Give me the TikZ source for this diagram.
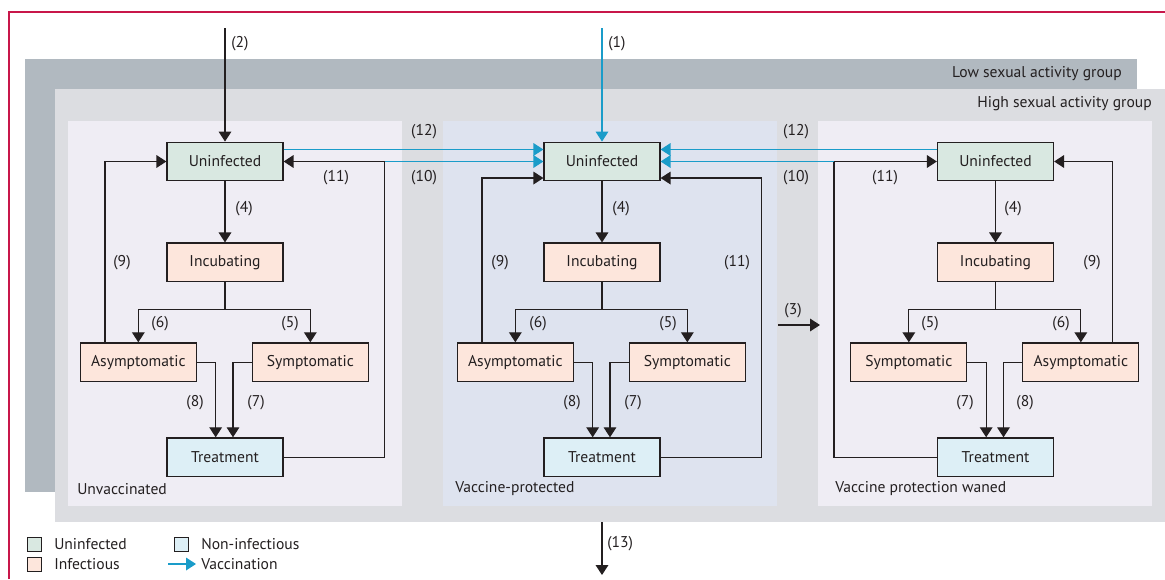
\documentclass[tikz,border=0pt]{standalone}
\usepackage{fontspec}
\setmainfont{PT Sans}
\usetikzlibrary{arrows.meta,positioning}

\definecolor{lowgrp}{HTML}{B1B9C0}
\definecolor{highgrp}{HTML}{DCDDE1}
\definecolor{panel}{HTML}{EFEDF4}
\definecolor{vpanel}{HTML}{DEE3EF}
\definecolor{uninf}{HTML}{D9E8E1}
\definecolor{infec}{HTML}{FDE6DC}
\definecolor{noninf}{HTML}{DDEFF6}
\definecolor{vaccblue}{HTML}{1A9CC9}
\definecolor{framered}{HTML}{C8174A}
\definecolor{ink}{HTML}{231F20}

\newcommand{\figfont}{\fontsize{11.7}{14}\selectfont}

\tikzset{
  comp/.style={draw=ink, line width=0.9pt, minimum width=87pt, minimum height=29pt, inner sep=0pt, font=\figfont, text=ink},
  arr/.style={-{Triangle[length=7.5pt,width=9.5pt]}, line width=0.95pt, ink},
  vacc/.style={-{Triangle[length=7.5pt,width=9.5pt]}, line width=0.95pt, vaccblue},
  num/.style={font=\figfont, text=ink, inner sep=0pt},
  legbox/.style={draw=ink, line width=0.7pt, minimum size=10.5pt, inner sep=0pt},
}

\begin{document}
\begin{tikzpicture}[x=0.75pt, y=-0.75pt]

\useasboundingbox (0,0) rectangle (1165,579);

% groups and panels
\fill[lowgrp] (25,59) rectangle (1137,492);
\fill[highgrp] (55,89) rectangle (1165,522);
\fill[panel] (68,121) rectangle (402,506);
\fill[vpanel] (443,121) rectangle (777,506);
\fill[panel] (818,121) rectangle (1152,506);
\draw[framered, line width=0.8pt] (9,579) -- (9,12) -- (1165,12);

\node[num, anchor=east] (lowlbl) at (1122,74) {Low sexual activity group};
\node[num, anchor=east] (highlbl) at (1152,104) {High sexual activity group};
\node[num, anchor=west] (unvlbl) at (77,489) {Unvaccinated};
\node[num, anchor=west] (vprlbl) at (455,489) {Vaccine-protected};
\node[num, anchor=west] (wanlbl) at (835,489) {Vaccine protection waned};

% unvaccinated
\node[comp, fill=uninf] (U1) at (225,161.5) {Uninfected};
\node[comp, fill=infec] (I1) [below=45.75pt of U1] {Incubating};
\node[comp, fill=infec] (A1) [below=45pt of I1, xshift=-65pt] {Asymptomatic};
\node[comp, fill=infec] (S1) [below=45pt of I1, xshift=64pt] {Symptomatic};
\node[comp, fill=noninf] (T1) [below=116.25pt of I1] {Treatment};

% vaccine-protected
\node[comp, fill=uninf] (U2) at (602,161.5) {Uninfected};
\node[comp, fill=infec] (I2) [below=45.75pt of U2] {Incubating};
\node[comp, fill=infec] (A2) [below=45pt of I2, xshift=-65pt] {Asymptomatic};
\node[comp, fill=infec] (S2) [below=45pt of I2, xshift=64pt] {Symptomatic};
\node[comp, fill=noninf] (T2) [below=116.25pt of I2] {Treatment};

% vaccine protection waned
\node[comp, fill=uninf] (U3) at (995.5,161.5) {Uninfected};
\node[comp, fill=infec] (I3) [below=45.75pt of U3] {Incubating};
\node[comp, fill=infec] (S3) [below=45pt of I3, xshift=-65pt] {Symptomatic};
\node[comp, fill=infec] (A3) [below=45pt of I3, xshift=64pt] {Asymptomatic};
\node[comp, fill=noninf] (T3) [below=116.25pt of I3] {Treatment};

\coordinate (in2) at (225,28);
\coordinate (in1) at (602,28);
\coordinate (out13) at (602,575);
\coordinate (src13) at (602,522);
\coordinate (src3) at (778,325);
\coordinate (dst3) at (820,325);

% unvaccinated flows
\draw[arr] (in2) -- (U1);
\draw[arr] (U1) -- (I1);
\draw[arr] (I1.south) -- ++(0,27) coordinate (b1) -| (A1.north);
\draw[arr] (b1) -| (S1.north);
\draw[arr] (A1.east) -| ([xshift=-7pt]T1.north);
\draw[arr] (S1.west) -| ([xshift=6pt]T1.north);
\draw[arr] ([xshift=-25pt]A1.north) |- (U1.west);
\draw[arr] (T1.east) -- ++(101,0) coordinate (k1) |- (U1.east);

% vaccine-protected flows
\draw[vacc] (in1) -- (U2);
\draw[arr] (U2) -- (I2);
\draw[arr] (I2.south) -- ++(0,27) coordinate (b2) -| (A2.north);
\draw[arr] (b2) -| (S2.north);
\draw[arr] (A2.east) -| ([xshift=-7pt]T2.north);
\draw[arr] (S2.west) -| ([xshift=6pt]T2.north);
\draw[arr] ([xshift=-25pt]A2.north) |- ([yshift=-12.4pt]U2.west);
\draw[arr] (T2.east) -- ++(101,0) |- ([yshift=-12.4pt]U2.east);

% waned flows
\draw[arr] (U3) -- (I3);
\draw[arr] (I3.south) -- ++(0,27) coordinate (b3) -| (S3.north);
\draw[arr] (b3) -| (A3.north);
\draw[arr] (S3.east) -| ([xshift=-7pt]T3.north);
\draw[arr] (A3.west) -| ([xshift=6pt]T3.north);
\draw[arr] ([xshift=24pt]A3.north) |- (U3.east);
\draw[arr] (T3.west) -- ++(-103,0) coordinate (k3) |- (U3.west);

% vaccination
\draw[vacc] ([yshift=9pt]U1.east) -- ([yshift=9pt]U2.west);
\draw[vacc] (k1 |- U1.east) -- (U2.west);
\draw[vacc] ([yshift=9pt]U3.west) -- ([yshift=9pt]U2.east);
\draw[vacc] (k3 |- U3.west) -- (U2.east);

\draw[arr] (src3) -- (dst3);
\draw[arr] (src13) -- (out13);

% rate labels
\node[num, anchor=west] (n2) at (231,44) {(2)};
\node[num, anchor=west] (n1) at (608,44) {(1)};
\node[num, anchor=west] (n13) at (607,544) {(13)};
\node[num] (n3) at (793,311) {(3)};
\node[num] (n12a) at (424,132) {(12)};
\node[num] (n10a) at (424,178) {(10)};
\node[num] (n12b) at (796,132) {(12)};
\node[num] (n10b) at (796,178) {(10)};

\node[num] (n11a) at (336,178) {(11)};
\node[num] (n4a) at (244,209) {(4)};
\node[num] (n9a) at (122,263) {(9)};
\node[num] (n6a) at (160,324) {(6)};
\node[num] (n5a) at (290,324) {(5)};
\node[num] (n8a) at (195,403) {(8)};
\node[num] (n7a) at (256,403) {(7)};

\node[num] (n4b) at (621,209) {(4)};
\node[num] (n9b) at (500,263) {(9)};
\node[num] (n11b) at (737,263) {(11)};
\node[num] (n6b) at (538,324) {(6)};
\node[num] (n5b) at (668,324) {(5)};
\node[num] (n8b) at (572,403) {(8)};
\node[num] (n7b) at (633,403) {(7)};

\node[num] (n11c) at (885,178) {(11)};
\node[num] (n4c) at (1013,209) {(4)};
\node[num] (n9c) at (1092,263) {(9)};
\node[num] (n5c) at (930,324) {(5)};
\node[num] (n6c) at (1061,324) {(6)};
\node[num] (n7c) at (965,403) {(7)};
\node[num] (n8c) at (1025,403) {(8)};

% legend
\node[legbox, fill=uninf] (lgU) at (34.5,544) {};
\node[legbox, fill=infec] (lgI) at (34.5,564) {};
\node[legbox, fill=noninf] (lgN) at (181.5,544) {};
\coordinate (lgVa) at (168,564);
\coordinate (lgVb) at (196,564);
\draw[vacc] (lgVa) -- (lgVb);
\node[num, anchor=west] (ltU) at (54,544) {Uninfected};
\node[num, anchor=west] (ltI) at (54,564) {Infectious};
\node[num, anchor=west] (ltN) at (201,544) {Non-infectious};
\node[num, anchor=west] (ltV) at (201,564) {Vaccination};

\end{tikzpicture}
\end{document}
